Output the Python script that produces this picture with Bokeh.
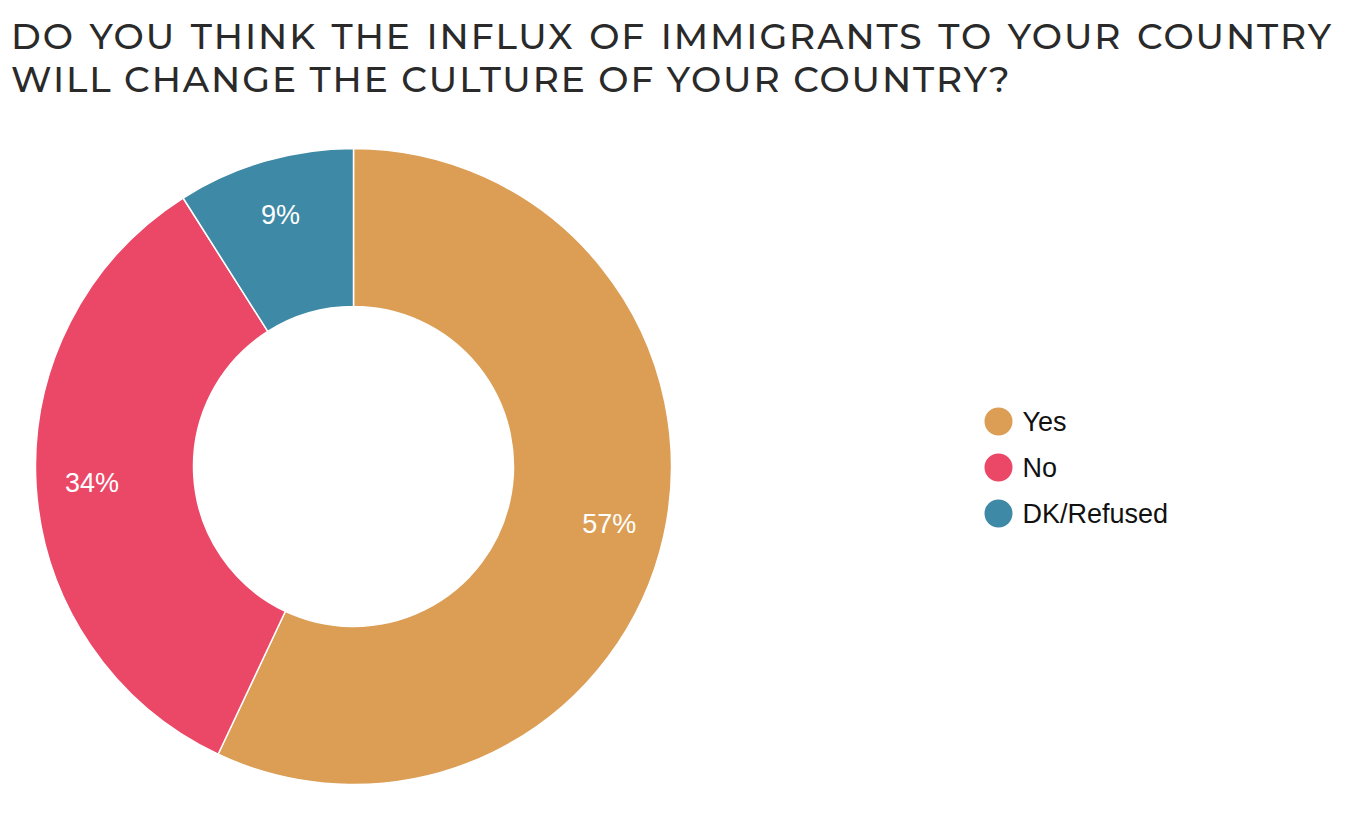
import math
from bokeh.plotting import figure
from bokeh.models import Div, Range1d, ColumnDataSource
from bokeh.layouts import column
from bokeh.embed import file_html
from bokeh.resources import INLINE
from bokeh.core.properties import value

# ---- data ----
title_lines = ["DO YOU THINK THE INFLUX OF IMMIGRANTS TO YOUR COUNTRY",
               "WILL CHANGE THE CULTURE OF YOUR COUNTRY?"]
categories = ["Yes", "No", "DK/Refused"]
percentages = [57, 34, 9]
colors = ["#DC9E55", "#EB4868", "#3E89A5"]

# ---- layout constants (page pixels) ----
W = 1331
TITLE_H = 110
H = 799 - TITLE_H
TOP = 8 + TITLE_H
XOFF = 0
YADJ = 2
CX, CY = 353, -466          # donut centre (y = -page_y)
R_OUT, R_IN, R_LAB = 318, 160, 262
LEG_X, LEG_Y0, LEG_DY = 998, -421, 46

# ---- geometry from data ----
total = float(sum(percentages))
starts, ends, lx, ly, labels = [], [], [], [], []
cum = 0.0
for v in percentages:
    a_top = math.pi / 2 - 2 * math.pi * cum / total
    cum += v
    a_bot = math.pi / 2 - 2 * math.pi * cum / total
    starts.append(a_bot)
    ends.append(a_top)
    mid = (a_top + a_bot) / 2
    lx.append(CX + R_LAB * math.cos(mid))
    ly.append(CY + R_LAB * math.sin(mid))
    labels.append(f"{v}%")

src = ColumnDataSource(dict(cat=categories, pct=percentages, color=colors,
                            start=starts, end=ends, lx=lx, ly=ly, label=labels,
                            legx=[LEG_X] * len(categories),
                            legy=[LEG_Y0 - i * LEG_DY for i in range(len(categories))],
                            legtx=[LEG_X + 24] * len(categories)))

p = figure(width=W, height=H, output_backend="svg", toolbar_location=None,
           x_range=Range1d(XOFF, XOFF + W),
           y_range=Range1d(-(TOP + H) - YADJ, -TOP - YADJ),
           min_border=0, outline_line_color=None, background_fill_color="white",
           border_fill_color="white")
p.axis.visible = False
p.grid.visible = False

p.annular_wedge(x=CX, y=CY, inner_radius=R_IN, outer_radius=R_OUT,
                start_angle="start", end_angle="end", direction="anticlock",
                fill_color="color", line_color="white", line_width=1.5, source=src)

p.text(x="lx", y="ly", text="label", source=src, text_color="white",
       text_font=value("Liberation Sans"), text_font_size="27px",
       text_align="center", text_baseline="middle")

p.scatter(x="legx", y="legy", source=src, marker="circle", size=28,
          fill_color="color", line_color=None)
p.text(x="legtx", y="legy", text="cat", source=src, text_color="#111111",
       text_font=value("Liberation Sans"), text_font_size="27px",
       text_align="left", text_baseline="middle")

base = ("font-family:'Montserrat','Open Sans',sans-serif;font-size:36px;"
        "font-weight:500;letter-spacing:1.9px;line-height:43px;color:#2a2a2a;"
        "white-space:nowrap;")
title_html = ("<div style=\"padding-top:10px;padding-left:6px;\">"
              "<div style=\"" + base + "width:1322px;text-align:justify;text-align-last:justify;\">"
              + title_lines[0] + "</div>"
              "<div style=\"" + base + "\">" + title_lines[1] + "</div></div>")
title = Div(text=title_html, width=W, height=TITLE_H)

layout = column(title, p, spacing=0)
open("out.html", "w").write(file_html(layout, INLINE))
